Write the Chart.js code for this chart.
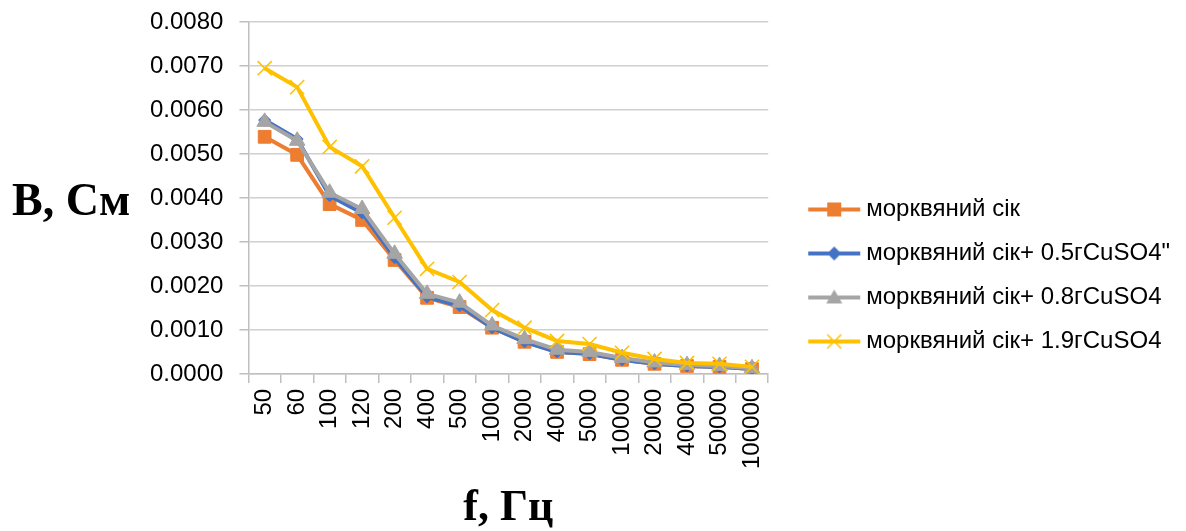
<!DOCTYPE html>
<html>
<head>
<meta charset="utf-8">
<script src="https://cdn.jsdelivr.net/npm/chart.js@4.4.1/dist/chart.umd.min.js"></script>
<style>
  html, body { margin: 0; padding: 0; background: #ffffff; }
  #wrap { position: relative; width: 1186px; height: 531px; }
</style>
</head>
<body>
<div id="wrap"><canvas id="c" width="1186" height="531"></canvas></div>
<script>
const categories = ['50','60','100','120','200','400','500','1000','2000','4000','5000','10000','20000','40000','50000','100000'];
const seriesNames = ['морквяний сік', 'морквяний сік+ 0.5гCuSO4"', 'морквяний сік+ 0.8гCuSO4', 'морквяний сік+ 1.9гCuSO4'];
const juice = [0.00539,0.00498,0.00386,0.00350,0.00259,0.00173,0.00152,0.00105,0.00073,0.00050,0.00045,0.00032,0.00023,0.00018,0.00016,0.00011];
const juice05 = [0.00577,0.00534,0.00405,0.00366,0.00264,0.00175,0.00155,0.00105,0.00073,0.00050,0.00046,0.00032,0.00023,0.00018,0.00016,0.00011];
const juice08 = [0.00573,0.00530,0.00412,0.00375,0.00273,0.00182,0.00162,0.00110,0.00079,0.00055,0.00050,0.00036,0.00026,0.00020,0.00018,0.00013];
const juice19 = [0.00695,0.00652,0.00516,0.00472,0.00355,0.00239,0.00209,0.00145,0.00105,0.00075,0.00068,0.00048,0.00034,0.00025,0.00023,0.00016];
const yTitle = 'B, См';
const xTitle = 'f, Гц';

const colors = ['#ED7D31', '#4472C4', '#A5A5A5', '#FFC000'];
const styles = ['rect', 'rectRot', 'triangle', 'crossRot'];
const radii = [9, 6, 9, 10];

const LEG_PAD = 20, PSW = 66;
function legendGlyph(i) {
  const cv = document.createElement('canvas');
  cv.width = 100; cv.height = 24;
  const g = cv.getContext('2d');
  const cx = 50;
  const x0 = cx - 13, x1 = cx + 39;
  const y = 12;
  g.strokeStyle = colors[i]; g.lineWidth = 4; g.lineCap = 'butt';
  g.beginPath(); g.moveTo(x0, y); g.lineTo(x1, y); g.stroke();
  const m = (x0 + x1) / 2;
  g.fillStyle = colors[i]; g.strokeStyle = colors[i];
  if (i === 0) { g.fillRect(m - 7, y - 7, 14, 14); }
  else if (i === 1) { g.beginPath(); g.moveTo(m, y - 7); g.lineTo(m + 7, y); g.lineTo(m, y + 7); g.lineTo(m - 7, y); g.closePath(); g.fill(); }
  else if (i === 2) { g.beginPath(); g.moveTo(m, y - 8); g.lineTo(m + 8, y + 6); g.lineTo(m - 8, y + 6); g.closePath(); g.fill(); }
  else { g.lineWidth = 1.5; g.beginPath(); g.moveTo(m - 7, y - 7); g.lineTo(m + 7, y + 7); g.moveTo(m + 7, y - 7); g.lineTo(m - 7, y + 7); g.stroke(); }
  return cv;
}
const glyphs = [0,1,2,3].map(legendGlyph);

const values = [juice, juice05, juice08, juice19];
const datasets = values.map((v, i) => ({
  label: seriesNames[i],
  data: v,
  borderColor: colors[i],
  backgroundColor: colors[i],
  borderWidth: 4,
  pointStyle: styles[i],
  pointRadius: radii[i],
  pointBorderWidth: i === 3 ? 1.5 : 1,
  pointBackgroundColor: colors[i],
  pointBorderColor: colors[i],
  tension: 0,
  order: 4 - i
}));

const yTitlePlugin = {
  id: 'yTitlePlugin',
  afterDraw(chart) {
    const ctx = chart.ctx;
    ctx.save();
    ctx.font = 'bold 46px "Liberation Serif", "Times New Roman", serif';
    ctx.fillStyle = '#000';
    ctx.textAlign = 'left';
    ctx.textBaseline = 'alphabetic';
    ctx.fillText(yTitle, 12, 215);
    ctx.restore();
  }
};

new Chart(document.getElementById('c'), {
  type: 'line',
  data: { labels: categories, datasets },
  plugins: [yTitlePlugin],
  options: {
    responsive: false,
    animation: false,
    layout: { padding: { left: 134, top: 20, right: 6, bottom: 0 } },
    plugins: {
      tooltip: { enabled: false },
      legend: {
        position: 'right',
        align: 'center',
        maxWidth: 430,
        labels: {
          usePointStyle: true,
          pointStyleWidth: PSW,
          padding: LEG_PAD,
          color: '#000',
          font: { family: '"Liberation Sans", Arial, sans-serif', size: 24 },
          generateLabels(chart) {
            const items = Chart.defaults.plugins.legend.labels.generateLabels(chart);
            items.sort((a, b) => a.datasetIndex - b.datasetIndex);
            items.forEach(it => { it.pointStyle = glyphs[it.datasetIndex]; it.lineWidth = 0; });
            return items;
          }
        }
      }
    },
    scales: {
      x: {
        type: 'category',
        offset: true,
        border: { display: true, color: '#BFBFBF', width: 1.5 },
        grid: { display: true, offset: true, drawOnChartArea: false, drawTicks: true, tickLength: 9, color: '#BFBFBF', lineWidth: 1.5 },
        ticks: {
          autoSkip: false, minRotation: 90, maxRotation: 90, padding: 6,
          color: '#000',
          font: { family: '"Liberation Sans", Arial, sans-serif', size: 24 }
        },
        title: {
          display: true, text: xTitle, color: '#000',
          font: { family: '"Liberation Serif", "Times New Roman", serif', size: 44, weight: 'bold', lineHeight: 1.0 },
          padding: { top: 12, bottom: 0 }
        }
      },
      y: {
        min: 0, max: 0.008,
        border: { display: true, color: '#BFBFBF', width: 1.5 },
        grid: { color: '#D0D0D0', lineWidth: 1.5, drawTicks: true, tickLength: 9, tickColor: '#BFBFBF' },
        ticks: {
          stepSize: 0.001, padding: 16, color: '#000',
          font: { family: '"Liberation Sans", Arial, sans-serif', size: 24 },
          callback: (v) => Number(v).toFixed(4)
        },
        afterFit(scale) { scale.paddingTop = 22; scale.paddingBottom = 14; }
      }
    }
  }
});
</script>
</body>
</html>
